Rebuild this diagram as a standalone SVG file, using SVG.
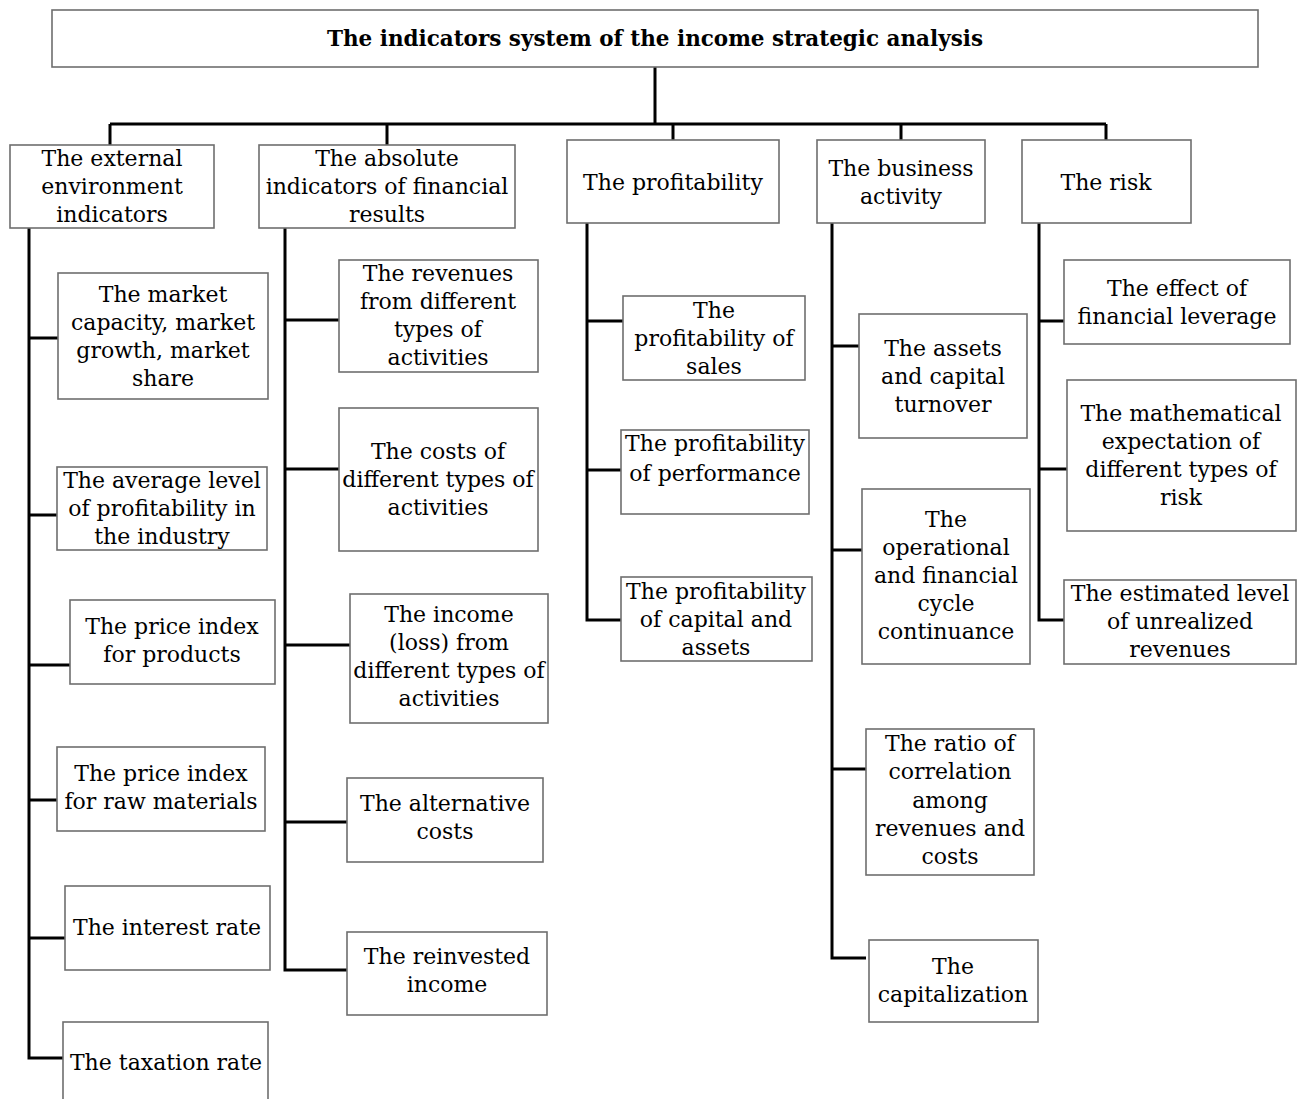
<svg xmlns="http://www.w3.org/2000/svg" width="1300" height="1099" viewBox="0 0 1300 1099">
<style>
rect.b{fill:#fff;stroke:#6e6e6e;stroke-width:1.6}
text{font-family:"DejaVu Serif","Liberation Serif",serif;font-size:22px;fill:#000;text-anchor:middle}
text.t{font-weight:bold;font-size:22px}
.c{fill:none;stroke:#000;stroke-width:3}
</style>
<rect width="1300" height="1099" fill="#fff"/>
<g id="connectors">
<path class="c" d="M655,67 V124 M110,124 H1106 M110,124 V145 M387,124 V145 M673,124 V140 M901,124 V140 M1106,124 V140"/>
<path class="c" d="M29,228 V1058 H63 M29,338 H58 M29,515 H57 M29,665 H70 M29,800 H57 M29,938 H65"/>
<path class="c" d="M285,228 V970 H347 M285,320 H339 M285,469 H339 M285,645 H350 M285,822 H347"/>
<path class="c" d="M587,223 V620 H621 M587,321 H623 M587,470 H621"/>
<path class="c" d="M832,223 V958 H866 M832,346 H859 M832,550 H862 M832,769 H866"/>
<path class="c" d="M1039,223 V620 H1064 M1039,321 H1064 M1039,469 H1067"/>
</g>
<g id="root"><rect class="b" x="52" y="10" width="1206" height="57"/><text class="t" x="655" y="46" textLength="656" lengthAdjust="spacingAndGlyphs">The indicators system of the income strategic analysis</text></g>
<g id="external"><rect class="b" x="10" y="145" width="204" height="83"/><text x="112" y="166">The external</text><text x="112" y="194">environment</text><text x="112" y="222">indicators</text></g>
<g id="absolute"><rect class="b" x="259" y="145" width="256" height="83"/><text x="387" y="166">The absolute</text><text x="387" y="194">indicators of financial</text><text x="387" y="222">results</text></g>
<g id="profitability"><rect class="b" x="567" y="140" width="212" height="83"/><text x="673" y="190">The profitability</text></g>
<g id="business"><rect class="b" x="817" y="140" width="168" height="83"/><text x="901" y="176">The business</text><text x="901" y="204">activity</text></g>
<g id="risk"><rect class="b" x="1022" y="140" width="169" height="83"/><text x="1106" y="190">The risk</text></g>

<g id="market"><rect class="b" x="58" y="273" width="210" height="126"/><text x="163" y="302">The market</text><text x="163" y="330">capacity, market</text><text x="163" y="358">growth, market</text><text x="163" y="386">share</text></g>
<g id="average"><rect class="b" x="57" y="467" width="210" height="83"/><text x="162" y="488">The average level</text><text x="162" y="516">of profitability in</text><text x="162" y="544">the industry</text></g>
<g id="price-products"><rect class="b" x="70" y="600" width="205" height="84"/><text x="172" y="634">The price index</text><text x="172" y="662">for products</text></g>
<g id="price-raw"><rect class="b" x="57" y="747" width="208" height="84"/><text x="161" y="781">The price index</text><text x="161" y="809">for raw materials</text></g>
<g id="interest"><rect class="b" x="65" y="886" width="205" height="84"/><text x="167" y="935">The interest rate</text></g>
<g id="taxation"><rect class="b" x="63" y="1022" width="205" height="82"/><text x="166" y="1070">The taxation rate</text></g>

<g id="revenues"><rect class="b" x="339" y="260" width="199" height="112"/><text x="438" y="281">The revenues</text><text x="438" y="309">from different</text><text x="438" y="337">types of</text><text x="438" y="365">activities</text></g>
<g id="costs"><rect class="b" x="339" y="408" width="199" height="143"/><text x="438" y="459">The costs of</text><text x="438" y="487">different types of</text><text x="438" y="515">activities</text></g>
<g id="income"><rect class="b" x="350" y="594" width="198" height="129"/><text x="449" y="622">The income</text><text x="449" y="650">(loss) from</text><text x="449" y="678">different types of</text><text x="449" y="706">activities</text></g>
<g id="alternative"><rect class="b" x="347" y="778" width="196" height="84"/><text x="445" y="811">The alternative</text><text x="445" y="839">costs</text></g>
<g id="reinvested"><rect class="b" x="347" y="932" width="200" height="83"/><text x="447" y="964">The reinvested</text><text x="447" y="992">income</text></g>

<g id="sales"><rect class="b" x="623" y="296" width="182" height="84"/><text x="714" y="318">The</text><text x="714" y="346">profitability of</text><text x="714" y="374">sales</text></g>
<g id="performance"><rect class="b" x="621" y="430" width="188" height="84"/><text x="715" y="451">The profitability</text><text x="715" y="481">of performance</text></g>
<g id="capital"><rect class="b" x="621" y="577" width="191" height="84"/><text x="716" y="599">The profitability</text><text x="716" y="627">of capital and</text><text x="716" y="655">assets</text></g>

<g id="assets"><rect class="b" x="859" y="314" width="168" height="124"/><text x="943" y="356">The assets</text><text x="943" y="384">and capital</text><text x="943" y="412">turnover</text></g>
<g id="operational"><rect class="b" x="862" y="489" width="168" height="175"/><text x="946" y="527">The</text><text x="946" y="555">operational</text><text x="946" y="583">and financial</text><text x="946" y="611">cycle</text><text x="946" y="639">continuance</text></g>
<g id="ratio"><rect class="b" x="866" y="729" width="168" height="146"/><text x="950" y="751">The ratio of</text><text x="950" y="779">correlation</text><text x="950" y="808">among</text><text x="950" y="836">revenues and</text><text x="950" y="864">costs</text></g>
<g id="capitalization"><rect class="b" x="869" y="940" width="169" height="82"/><text x="953" y="974">The</text><text x="953" y="1002">capitalization</text></g>

<g id="effect"><rect class="b" x="1064" y="260" width="226" height="84"/><text x="1177" y="296">The effect of</text><text x="1177" y="324">financial leverage</text></g>
<g id="math"><rect class="b" x="1067" y="380" width="229" height="151"/><text x="1181" y="421">The mathematical</text><text x="1181" y="449">expectation of</text><text x="1181" y="477">different types of</text><text x="1181" y="505">risk</text></g>
<g id="estimated"><rect class="b" x="1064" y="580" width="232" height="84"/><text x="1180" y="601">The estimated level</text><text x="1180" y="629">of unrealized</text><text x="1180" y="657">revenues</text></g>
</svg>
